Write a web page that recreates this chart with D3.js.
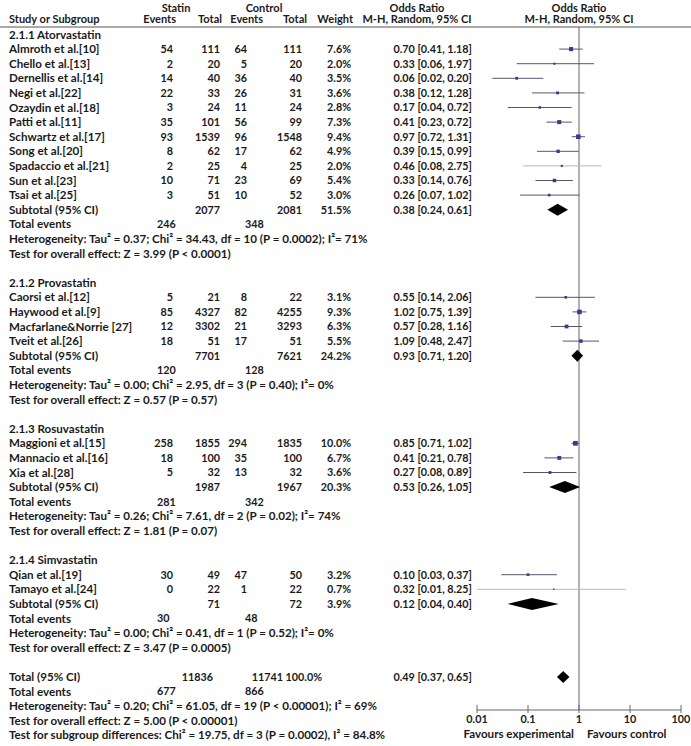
<!DOCTYPE html>
<html><head><meta charset="utf-8">
<script src="https://cdn.jsdelivr.net/npm/d3@7"></script>
<style>
html,body{margin:0;padding:0;background:#fff;}
svg text{font-family:Lato,"Open Sans",sans-serif;font-weight:bold;fill:#1a1a1a;}
</style></head>
<body><svg id="c" width="691" height="746"></svg>
<script>
// ---------- data ----------
const studyNames = ["Almroth et al.[10]","Chello et al.[13]","Dernellis et al.[14]","Negi et al.[22]","Ozaydin et al.[18]","Patti et al.[11]","Schwartz et al.[17]","Song et al.[20]","Spadaccio et al.[21]","Sun et al.[23]","Tsai et al.[25]",
  "Caorsi et al.[12]","Haywood et al.[9]","Macfarlane&Norrie [27]","Tveit et al.[26]",
  "Maggioni et al.[15]","Mannacio et al.[16]","Xia et al.[28]",
  "Qian et al.[19]","Tamayo et al.[24]"];
const studyGroup = [0,0,0,0,0,0,0,0,0,0,0, 1,1,1,1, 2,2,2, 3,3];
const statinEvents = [54,2,14,22,3,35,93,8,2,10,3, 5,85,12,18, 258,18,5, 30,0];
const statinTotal = [111,20,40,33,24,101,1539,62,25,71,51, 21,4327,3302,51, 1855,100,32, 49,22];
const controlEvents = [64,5,36,26,11,56,96,17,4,23,10, 8,82,21,17, 294,35,13, 47,1];
const controlTotal = [111,20,40,31,24,99,1548,62,25,69,52, 22,4255,3293,51, 1835,100,32, 50,22];
const weights = [7.6,2.0,3.5,3.6,2.8,7.3,9.4,4.9,2.0,5.4,3.0, 3.1,9.3,6.3,5.5, 10.0,6.7,3.6, 3.2,0.7];
const oddsRatio = [0.70,0.33,0.06,0.38,0.17,0.41,0.97,0.39,0.46,0.33,0.26, 0.55,1.02,0.57,1.09, 0.85,0.41,0.27, 0.10,0.32];
const ciLow = [0.41,0.06,0.02,0.12,0.04,0.23,0.72,0.15,0.08,0.14,0.07, 0.14,0.75,0.28,0.48, 0.71,0.21,0.08, 0.03,0.01];
const ciHigh = [1.18,1.97,0.20,1.28,0.72,0.72,1.31,0.99,2.75,0.76,1.02, 2.06,1.39,1.16,2.47, 1.02,0.78,0.89, 0.37,8.25];
const lightLines = ["Spadaccio et al.[21]","Tamayo et al.[24]"];

const groupNames = ["2.1.1 Atorvastatin","2.1.2 Provastatin","2.1.3 Rosuvastatin","2.1.4 Simvastatin"];
const subStatinTotal = [2077,7701,1987,71];
const subControlTotal = [2081,7621,1967,72];
const subWeight = [51.5,24.2,20.3,3.9];
const subOR = [0.38,0.93,0.53,0.12];
const subLow = [0.24,0.71,0.26,0.04];
const subHigh = [0.61,1.20,1.05,0.40];
const subStatinEvents = [246,120,281,30];
const subControlEvents = [348,128,342,48];
const subHet = [
  "Heterogeneity: Tau² = 0.37; Chi² = 34.43, df = 10 (P = 0.0002); I²= 71%",
  "Heterogeneity: Tau² = 0.00; Chi² = 2.95, df = 3 (P = 0.40); I²= 0%",
  "Heterogeneity: Tau² = 0.26; Chi² = 7.61, df = 2 (P = 0.02); I²= 74%",
  "Heterogeneity: Tau² = 0.00; Chi² = 0.41, df = 1 (P = 0.52); I²= 0%"];
const subTest = [
  "Test for overall effect: Z = 3.99 (P < 0.0001)",
  "Test for overall effect: Z = 0.57 (P = 0.57)",
  "Test for overall effect: Z = 1.81 (P = 0.07)",
  "Test for overall effect: Z = 3.47 (P = 0.0005)"];

const totalStatin = 11836, totalControl = 11741, totalWeight = 100.0;
const totalOR = 0.49, totalLow = 0.37, totalHigh = 0.65;
const totalStatinEvents = 677, totalControlEvents = 866;
const totalHet = "Heterogeneity: Tau² = 0.20; Chi² = 61.05, df = 19 (P < 0.00001); I² = 69%";
const totalTest = "Test for overall effect: Z = 5.00 (P < 0.00001)";
const subgroupTest = "Test for subgroup differences: Chi² = 19.75, df = 3 (P = 0.0002), I² = 84.8%";

const tickValues = [0.01,0.1,1,10,100];
const tickLabels = ["0.01","0.1","1","10","100"];
const favoursLeft = "Favours experimental", favoursRight = "Favours control";

// ---------- layout ----------
const svg = d3.select("#c");
// fit font size so the first heterogeneity line spans ~359px as in the reference
const probe = svg.append("text").attr("font-size",11).text(subHet[0]);
const w11 = probe.node().getComputedTextLength();
probe.remove();
const FS = Math.max(10, Math.min(13.5, 11*359/w11));
const FSN = FS*0.93;   // digits of the reference font are narrower

const col = {name:9, sEv:173, sTot:220, cEv:247, cTot:302, wt:351, orR:472, sEvL:157, cEvL:245,
             totSTot:213, totCTot:283, totWt:322};
const x = d3.scaleLog().domain([0.01,100]).range([477,681]);
const rowUnit = 14.6, rowTop = 34.5;
const yRow = d3.scaleLinear().domain([0,1]).range([rowTop, rowTop+rowUnit]);

const rows = [];
let u = 0;
groupNames.forEach((g,gi)=>{
  rows.push({type:"head", u:u++, g:gi});
  studyNames.forEach((n,i)=>{ if(studyGroup[i]===gi) rows.push({type:"study", u:u++, i:i}); });
  rows.push({type:"sub", u:u++, g:gi});
  rows.push({type:"subEv", u:u++, g:gi});
  rows.push({type:"subHet", u:u++, g:gi});
  rows.push({type:"subTest", u:u++, g:gi});
  u++; // gap
});
rows.push({type:"tot", u:u++});
rows.push({type:"totEv", u:u++});
rows.push({type:"totHet", u:u++});
rows.push({type:"totTest", u:u++});
rows.push({type:"subgroup", u:u++});

const fmt2 = d3.format(".2f"), fmt1 = d3.format(".1f");
const orText = (o,l,h)=> `${fmt2(o)} [${fmt2(l)}, ${fmt2(h)}]`;

function txt(xp, yc, s, anchor, fs){
  const f = fs||FS;
  svg.append("text").attr("x",xp).attr("y",yc+f*0.36).attr("font-size",f)
     .attr("text-anchor",anchor||"start").text(s);
}
function num(xp, yc, s, anchor){ txt(xp, yc, s, anchor, FSN); }

// header
const HF = FS*0.95;
const h1 = 8, h2 = 19.5, ruleY = 27;
txt(176, h1, "Statin", "middle", HF);
txt(264, h1, "Control", "middle", HF);
txt(417, h1, "Odds Ratio", "middle", HF);
txt(579, h1, "Odds Ratio", "middle", HF);
txt(col.name, h2, "Study or Subgroup", "start", HF);
txt(176, h2, "Events", "end", HF);
txt(222, h2, "Total", "end", HF);
txt(263, h2, "Events", "end", HF);
txt(307, h2, "Total", "end", HF);
txt(353, h2, "Weight", "end", HF);
txt(417, h2, "M-H, Random, 95% CI", "middle", HF);
txt(579, h2, "M-H, Random, 95% CI", "middle", HF);
svg.append("line").attr("x1",0).attr("x2",691).attr("y1",ruleY).attr("y2",ruleY)
   .attr("stroke","#555").attr("stroke-width",1);

const axisY = 710;
svg.append("line").attr("x1",x(1)).attr("x2",x(1)).attr("y1",ruleY).attr("y2",axisY)
   .attr("stroke","#666").attr("stroke-width",1);

function diamond(yc,o,l,h,hh){
  svg.append("path").attr("d",`M${x(l)},${yc}L${x(o)},${yc-hh}L${x(h)},${yc}L${x(o)},${yc+hh}Z`)
     .attr("fill","#000");
}

rows.forEach(r=>{
  const yc = yRow(r.u);
  if(r.type==="head"){ txt(col.name, yc, groupNames[r.g]); }
  else if(r.type==="study"){
    const i=r.i;
    txt(col.name, yc, studyNames[i]);
    num(col.sEv, yc, statinEvents[i], "end");
    num(col.sTot, yc, statinTotal[i], "end");
    num(col.cEv, yc, controlEvents[i], "end");
    num(col.cTot, yc, controlTotal[i], "end");
    num(col.wt, yc, fmt1(weights[i])+"%", "end");
    num(col.orR, yc, orText(oddsRatio[i],ciLow[i],ciHigh[i]), "end");
    const light = lightLines.includes(studyNames[i]);
    svg.append("line").attr("x1",x(ciLow[i])).attr("x2",x(Math.min(ciHigh[i],100)))
       .attr("y1",yc).attr("y2",yc).attr("stroke", light?"#b8b8b8":"#55556e").attr("stroke-width",1);
    const s = Math.max(1.5, Math.sqrt(weights[i])*1.5);
    svg.append("rect").attr("x",x(oddsRatio[i])-s/2).attr("y",yc-s/2).attr("width",s).attr("height",s)
       .attr("fill","#3b3b8e");
  }
  else if(r.type==="sub"){
    const g=r.g;
    txt(col.name, yc, "Subtotal (95% CI)");
    num(col.sTot, yc, subStatinTotal[g], "end");
    num(col.cTot, yc, subControlTotal[g], "end");
    num(col.wt, yc, fmt1(subWeight[g])+"%", "end");
    num(col.orR, yc, orText(subOR[g],subLow[g],subHigh[g]), "end");
    diamond(yc, subOR[g], subLow[g], subHigh[g], 6);
  }
  else if(r.type==="subEv"){
    txt(col.name, yc, "Total events");
    num(col.sEvL, yc, subStatinEvents[r.g]);
    num(col.cEvL, yc, subControlEvents[r.g]);
  }
  else if(r.type==="subHet"){ txt(col.name, yc, subHet[r.g]); }
  else if(r.type==="subTest"){ txt(col.name, yc, subTest[r.g]); }
  else if(r.type==="tot"){
    txt(col.name, yc, "Total (95% CI)");
    num(col.totSTot, yc, totalStatin, "end");
    num(col.totCTot, yc, totalControl, "end");
    num(col.totWt, yc, fmt1(totalWeight)+"%", "end");
    num(col.orR, yc, orText(totalOR,totalLow,totalHigh), "end");
    diamond(yc, totalOR, totalLow, totalHigh, 6);
  }
  else if(r.type==="totEv"){
    txt(col.name, yc, "Total events");
    num(col.sEvL, yc, totalStatinEvents);
    num(col.cEvL, yc, totalControlEvents);
  }
  else if(r.type==="totHet"){ txt(col.name, yc, totalHet); }
  else if(r.type==="totTest"){ txt(col.name, yc, totalTest); }
  else if(r.type==="subgroup"){ txt(col.name, yc, subgroupTest); }
});

// axis
svg.append("line").attr("x1",x(0.01)).attr("x2",x(100)).attr("y1",axisY).attr("y2",axisY)
   .attr("stroke","#666").attr("stroke-width",1);
tickValues.forEach((t,k)=>{
  svg.append("line").attr("x1",x(t)).attr("x2",x(t)).attr("y1",axisY-5).attr("y2",axisY+3)
     .attr("stroke","#666").attr("stroke-width",1);
  num(x(t), 719, tickLabels[k], "middle");
});
txt(574, 734, favoursLeft, "end");
txt(587, 734, favoursRight, "start");
</script></body></html>
